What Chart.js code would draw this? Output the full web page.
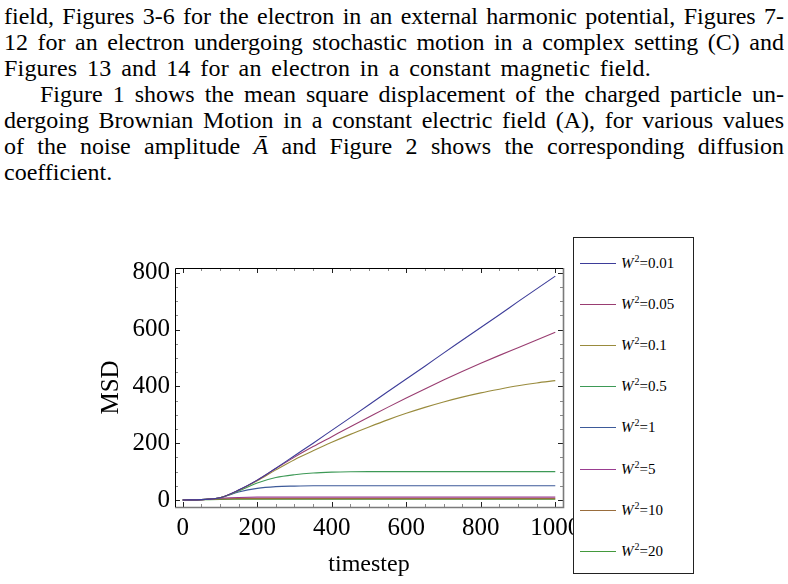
<!DOCTYPE html>
<html>
<head>
<meta charset="utf-8">
<title>MSD of a charged particle in a constant electric field</title>
<script src="https://cdn.jsdelivr.net/npm/chart.js@4.4.1/dist/chart.umd.min.js"></script>
<style>
    body {
        margin: 0;
        background: #fff;
        width: 788px;
        height: 584px;
        overflow: hidden;
        position: relative;
        font-family: "Liberation Serif", "Times New Roman", serif;
        color: #000;
    }
    #page-text {
        position: absolute;
        left: 4px;
        top: 3px;
        width: 780px;
        font-size: 24px;
        line-height: 26px;
    }
    #page-text .jl {
        text-align: justify;
        text-align-last: justify;
        height: 26px;
    }
    #page-text .ll {
        text-align: left;
        height: 26px;
    }
    #page-text .wide {
        word-spacing: 3.5px;
        letter-spacing: 0.2px;
    }
    #page-text .indent {
        padding-left: 36px;
    }
    #chart-wrap {
        position: absolute;
        left: 0;
        top: 220px;
        width: 788px;
        height: 364px;
    }
    #msd-legend {
        position: absolute;
        left: 573px;
        top: 237px;
        width: 119px;
        height: 335px;
        border: 1px solid #222;
        background: #fff;
    }
    .legend-item {
        position: absolute;
        left: 6px;
        height: 20px;
        font-size: 15px;
        line-height: 20px;
        white-space: nowrap;
    }
    .legend-swatch {
        position: absolute;
        left: 0;
        top: 10px;
        width: 36px;
        height: 0;
        border-top: 1.2px solid;
    }
    .legend-text {
        position: absolute;
        left: 41px;
        top: 0;
    }
    .legend-text sup {
        font-size: 10px;
        vertical-align: 0;
        position: relative;
        top: -6px;
        margin-left: 1px;
    }
</style>
</head>
<body>

<div id="page-text">
    <div class="jl">field, Figures 3-6 for the electron in an external harmonic potential, Figures 7-</div>
    <div class="jl">12 for an electron undergoing stochastic motion in a complex setting (C) and</div>
    <div class="ll wide">Figures 13 and 14 for an electron in a constant magnetic field.</div>
    <div class="jl indent">Figure 1 shows the mean square displacement of the charged particle un-</div>
    <div class="jl">dergoing Brownian Motion in a constant electric field (A), for various values</div>
    <div class="jl">of the noise amplitude <i>A&#772;</i> and Figure 2 shows the corresponding diffusion</div>
    <div class="ll">coefficient.</div>
</div>

<div id="chart-wrap">
    <canvas id="msd-chart"></canvas>
</div>
<div id="msd-legend"></div>

<script>
// timesteps shared by every curve
const timesteps = [0, 50, 100, 150, 200, 250, 300, 350, 400, 450, 500,
                   550, 600, 650, 700, 750, 800, 850, 900, 950, 1000];

// noise strengths, one per curve (legend labels)
const noiseLevels = ['0.01', '0.05', '0.1', '0.5', '1', '5', '10', '20'];

// MSD for each noise strength
const msdW001 = [0, 1.5, 8, 35, 70, 112, 156, 200, 245, 290, 335,
                 381, 426, 471, 517, 562, 607, 652, 698, 743, 788];
const msdW005 = [0, 1.5, 8, 35, 70, 111, 151, 188, 223, 258, 292,
                 326, 359, 391, 422, 452, 481, 509, 536, 563, 590];
const msdW01  = [0, 1.5, 8, 34, 68, 106, 142, 173, 203, 231, 257,
                 282, 305, 326, 345, 362, 377, 390, 402, 412, 420];
const msdW05  = [0, 1.5, 8, 32, 60, 79, 89, 95, 98, 99.5, 100,
                 100, 100, 100, 100, 100, 100, 100, 100, 100, 100];
const msdW1   = [0, 1.5, 8, 28, 41, 47, 49, 50, 50, 50, 50,
                 50, 50, 50, 50, 50, 50, 50, 50, 50, 50];
const msdW5   = [0, 1.2, 6, 9, 10, 10, 10, 10, 10, 10, 10,
                 10, 10, 10, 10, 10, 10, 10, 10, 10, 10];
const msdW10  = [0, 1, 4, 5, 5, 5, 5, 5, 5, 5, 5,
                 5, 5, 5, 5, 5, 5, 5, 5, 5, 5];
const msdW20  = [0, 0.8, 2.3, 2.5, 2.5, 2.5, 2.5, 2.5, 2.5, 2.5, 2.5,
                 2.5, 2.5, 2.5, 2.5, 2.5, 2.5, 2.5, 2.5, 2.5, 2.5];

const msdSeries = [msdW001, msdW005, msdW01, msdW05, msdW1, msdW5, msdW10, msdW20];

// Mathematica's default plot colours
const seriesColors = ['#3d3d99', '#993d71', '#998b3d', '#3d9956',
                      '#3d5a99', '#993d90', '#996d3d', '#43993d'];

// labelled ticks
const xTicks = [0, 200, 400, 600, 800, 1000];
const yTicks = [0, 200, 400, 600, 800];

/**
 * Draw the Mathematica style frame with inward ticks on all four sides
 */
const frameTicks = {
    id: 'frameTicks',
    afterDraw(chart) {
        const { ctx, chartArea: a, scales: { x, y } } = chart;
        ctx.save();

        // minor ticks every 50
        ctx.strokeStyle = '#888';
        ctx.lineWidth = 1;
        ctx.beginPath();
        for (let v = 0; v <= 1000; v += 50) {
            if (xTicks.includes(v)) continue;
            const px = Math.round(x.getPixelForValue(v)) + 0.5;
            ctx.moveTo(px, a.bottom); ctx.lineTo(px, a.bottom - 3);
            ctx.moveTo(px, a.top); ctx.lineTo(px, a.top + 3);
        }
        for (let v = 0; v <= 800; v += 50) {
            if (yTicks.includes(v)) continue;
            const py = Math.round(y.getPixelForValue(v)) + 0.5;
            ctx.moveTo(a.left, py); ctx.lineTo(a.left + 3, py);
            ctx.moveTo(a.right, py); ctx.lineTo(a.right - 3, py);
        }
        ctx.stroke();

        // major ticks
        ctx.strokeStyle = '#222';
        ctx.beginPath();
        xTicks.forEach(v => {
            const px = Math.round(x.getPixelForValue(v)) + 0.5;
            ctx.moveTo(px, a.bottom); ctx.lineTo(px, a.bottom - 5);
            ctx.moveTo(px, a.top); ctx.lineTo(px, a.top + 5);
        });
        yTicks.forEach(v => {
            const py = Math.round(y.getPixelForValue(v)) + 0.5;
            ctx.moveTo(a.left, py); ctx.lineTo(a.left + 5, py);
            ctx.moveTo(a.right, py); ctx.lineTo(a.right - 5, py);
        });
        ctx.stroke();

        // frame: dark left/top, grey right/bottom
        ctx.lineWidth = 1.6;
        ctx.strokeStyle = '#7a7a7a';
        ctx.beginPath();
        ctx.moveTo(a.left, a.bottom + 0.5);
        ctx.lineTo(a.right + 0.5, a.bottom + 0.5);
        ctx.lineTo(a.right + 0.5, a.top);
        ctx.stroke();
        ctx.lineWidth = 1;
        ctx.strokeStyle = '#000';
        ctx.beginPath();
        ctx.moveTo(a.left + 0.5, a.bottom);
        ctx.lineTo(a.left + 0.5, a.top + 0.5);
        ctx.lineTo(a.right, a.top + 0.5);
        ctx.stroke();

        ctx.restore();
    }
};

function buildDatasets() {
    return msdSeries.map((values, i) => ({
        label: 'W²=' + noiseLevels[i],
        noise: noiseLevels[i],
        data: timesteps.map((t, k) => ({ x: t, y: values[k] })),
        borderColor: seriesColors[i],
        borderWidth: 1.1,
        pointRadius: 0,
        fill: false,
        cubicInterpolationMode: 'monotone'
    }));
}

/**
 * Build the boxed legend to the right of the plot from the chart datasets
 */
function buildLegend(chart) {
    const box = document.getElementById('msd-legend');
    box.innerHTML = '';
    chart.data.datasets.forEach((ds, i) => {
        const item = document.createElement('div');
        item.className = 'legend-item';
        item.style.top = (15 + i * 41.1) + 'px';
        item.innerHTML = `
            <span class="legend-swatch" style="border-color:${ds.borderColor}"></span>
            <span class="legend-text"><i>W</i><sup>2</sup>=${ds.noise}</span>
        `;
        box.appendChild(item);
    });
}

const serif = "'Liberation Serif', 'Times New Roman', serif";

const msdChart = new Chart(document.getElementById('msd-chart'), {
    type: 'line',
    data: { datasets: buildDatasets() },
    options: {
        responsive: true,
        maintainAspectRatio: false,
        animation: false,
        layout: {
            padding: { left: 0, right: 225, top: 48, bottom: 0 }
        },
        plugins: {
            legend: { display: false },
            tooltip: { enabled: false }
        },
        scales: {
            x: {
                type: 'linear',
                min: -20.7,
                max: 1020.7,
                afterBuildTicks: scale => { scale.ticks = xTicks.map(v => ({ value: v })); },
                afterFit: scale => { scale.height = 77; },
                grid: { display: false, drawTicks: false },
                border: { display: false },
                ticks: {
                    color: '#000',
                    padding: 6,
                    maxRotation: 0,
                    autoSkip: false,
                    callback: value => String(value),
                    font: { family: serif, size: 25 }
                },
                title: {
                    display: true,
                    text: 'timestep',
                    color: '#000',
                    padding: { top: 0, bottom: 5 },
                    font: { family: serif, size: 24 }
                }
            },
            y: {
                type: 'linear',
                min: -24.6,
                max: 816.5,
                afterBuildTicks: scale => { scale.ticks = yTicks.map(v => ({ value: v })); },
                afterFit: scale => { scale.width = 175; },
                grid: { display: false, drawTicks: false },
                border: { display: false },
                ticks: {
                    color: '#000',
                    padding: 5,
                    autoSkip: false,
                    callback: value => String(value),
                    font: { family: serif, size: 25 }
                },
                title: {
                    display: true,
                    text: 'MSD',
                    color: '#000',
                    padding: { top: 96, bottom: 0 },
                    font: { family: serif, size: 25 }
                }
            }
        }
    },
    plugins: [frameTicks]
});

buildLegend(msdChart);
</script>
</body>
</html>
